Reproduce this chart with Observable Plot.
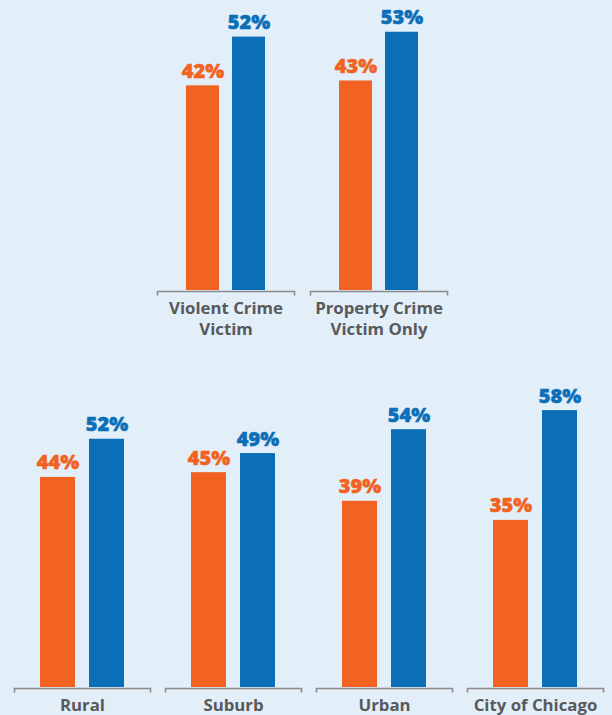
<!DOCTYPE html>
<html>
<head>
<meta charset="utf-8">
<script src="https://cdn.jsdelivr.net/npm/d3@7"></script>
<script src="https://cdn.jsdelivr.net/npm/@observablehq/plot@0.6"></script>
<style>
  html, body { margin: 0; padding: 0; background: #e2eef8; }
  #chart { width: 612px; height: 715px; overflow: hidden; background: #e2eef8; }
  svg { display: block; background: transparent !important; }
</style>
</head>
<body>
<div id="chart"></div>
<script>
// ---- data ----
const series = ["Series 1", "Series 2"];
const seriesColors = ["#f26322", "#0b6fb8"];

const topGroups = ["Violent Crime\nVictim", "Property Crime\nVictim Only"];
const topSeries1 = [42, 43];
const topSeries2 = [52, 53];

const bottomGroups = ["Rural", "Suburb", "Urban", "City of Chicago"];
const bottomSeries1 = [44, 45, 39, 35];
const bottomSeries2 = [52, 49, 54, 58];

function rows(groups, s1, s2) {
  const out = [];
  groups.forEach((g, i) => {
    out.push({group: g, series: series[0], value: s1[i]});
    out.push({group: g, series: series[1], value: s2[i]});
  });
  return out;
}

function panel(groups, s1, s2, o) {
  const data = rows(groups, s1, s2);
  const innerH = o.height - o.marginTop - o.marginBottom;
  const chart = Plot.plot({
    width: 612,
    height: o.height,
    marginTop: o.marginTop,
    marginBottom: o.marginBottom,
    marginLeft: o.marginLeft,
    marginRight: o.marginRight,
    style: {background: "transparent", fontFamily: "'Open Sans', Lato, sans-serif"},
    fx: {domain: groups, axis: null, label: null, paddingInner: o.fxPad, paddingOuter: 0},
    x: {domain: series, axis: null, label: null, paddingInner: o.xPadIn, paddingOuter: o.xPadOut},
    y: {domain: [0, o.yMax], axis: null, label: null},
    color: {domain: series, range: seriesColors},
    marks: [
      Plot.barY(data, {fx: "group", x: "series", y: "value", fill: "series"}),
      Plot.text(data, {
        fx: "group", x: "series", y: "value", text: d => d.value + "%",
        fill: "series", stroke: "series", strokeWidth: 0.5,
        dy: -8, lineAnchor: "bottom", fontSize: 20, fontWeight: 800
      }),
      Plot.frame({stroke: "#8c8c8c", strokeWidth: 1.6, insetTop: innerH + 1, insetBottom: -5}),
      Plot.text(groups, {
        fx: d => d, text: d => d, frameAnchor: "bottom", lineAnchor: "top",
        dy: 9, fontSize: 16.8, fontWeight: 700, fill: "#58595b", lineHeight: 1.25
      })
    ]
  });
  // bracket shape: draw top edge + both short sides of the thin frame rect
  d3.select(chart).selectAll('g[aria-label="frame"] rect').each(function() {
    const r = d3.select(this);
    const w = +r.attr("width"), h = +r.attr("height");
    r.attr("stroke-dasharray", `${w + h} ${w} ${h + 2}`);
  });
  return chart;
}

const root = document.getElementById("chart");
root.appendChild(panel(topGroups, topSeries1, topSeries2, {
  height: 345, marginTop: 22, marginBottom: 55, marginLeft: 157, marginRight: 165,
  yMax: 55, fxPad: 0.1046, xPadIn: 0.277, xPadOut: 0.6
}));
root.appendChild(panel(bottomGroups, bottomSeries1, bottomSeries2, {
  height: 370, marginTop: 46, marginBottom: 28, marginLeft: 13, marginRight: 9,
  yMax: 62, fxPad: 0.1013, xPadIn: 0.286, xPadOut: 0.53
}));
</script>
</body>
</html>
